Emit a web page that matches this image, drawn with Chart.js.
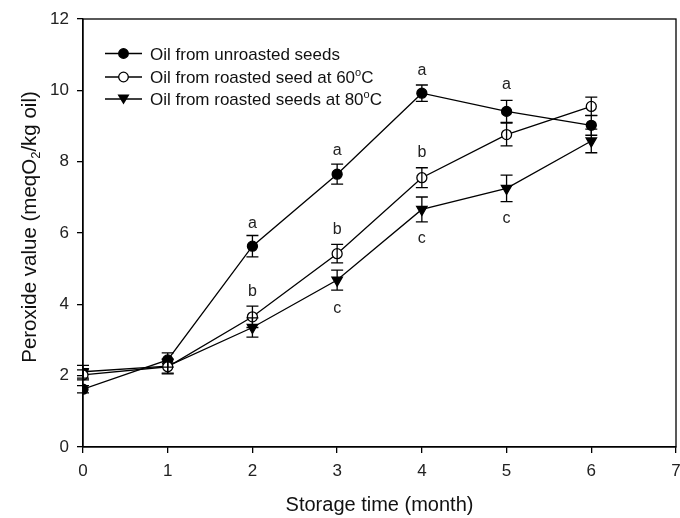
<!DOCTYPE html>
<html>
<head>
<meta charset="utf-8">
<script src="https://cdn.jsdelivr.net/npm/chart.js@4/dist/chart.umd.min.js"></script>
<style>
  html, body { margin: 0; padding: 0; background: #fff; }
  #wrap { width: 680px; height: 518px; }
</style>
</head>
<body>
<div id="wrap"><canvas id="chart" width="680" height="518"></canvas></div>
<script>
// Storage time (months) and peroxide values
const months = [0, 1, 2, 3, 4, 5, 6];
const unroasted = [1.62, 2.44, 5.63, 7.65, 9.92, 9.41, 9.02];
const unroastedErr = [0.1, 0.2, 0.3, 0.28, 0.23, 0.31, 0.28];
const roasted60 = [2.02, 2.25, 3.65, 5.42, 7.55, 8.76, 9.55];
const roasted60Err = [0.14, 0.2, 0.3, 0.26, 0.28, 0.32, 0.26];
const roasted80 = [2.11, 2.27, 3.35, 4.68, 6.66, 7.25, 8.58];
const roasted80Err = [0.18, 0.2, 0.27, 0.28, 0.35, 0.37, 0.33];

// Significance letters (month, position on value axis, text)
const letterMonths = [2, 2, 3, 3, 3, 4, 4, 4, 5, 5];
const letterValues = [6.25, 4.37, 8.32, 6.1, 3.89, 10.56, 8.26, 5.83, 10.17, 6.41];
const letterTexts = ['a', 'b', 'a', 'b', 'c', 'a', 'b', 'c', 'a', 'c'];

const xTicks = [0, 1, 2, 3, 4, 5, 6, 7];
const yTicks = [0, 2, 4, 6, 8, 10, 12];

const FONT = '"Liberation Sans", Arial, sans-serif';

function toPoints(values) {
    return months.map((m, i) => ({ x: m, y: values[i] }));
}

// Error bars drawn through the scales
const errorBars = {
    id: 'errorBars',
    afterDatasetsDraw(chart) {
        const ctx = chart.ctx;
        const xs = chart.scales.x, ys = chart.scales.y;
        ctx.save();
        ctx.strokeStyle = '#000';
        ctx.lineWidth = 1.3;
        chart.data.datasets.forEach(ds => {
            ds.data.forEach((p, i) => {
                const e = ds.errors[i];
                const px = xs.getPixelForValue(p.x);
                const top = ys.getPixelForValue(p.y + e);
                const bot = ys.getPixelForValue(p.y - e);
                ctx.beginPath();
                ctx.moveTo(px, top); ctx.lineTo(px, bot);
                ctx.moveTo(px - 6, top); ctx.lineTo(px + 6, top);
                ctx.moveTo(px - 6, bot); ctx.lineTo(px + 6, bot);
                ctx.stroke();
            });
        });
        ctx.restore();
    }
};

// Frame, letters, legend and axis titles
const decorations = {
    id: 'decorations',
    afterDraw(chart) {
        const ctx = chart.ctx;
        const a = chart.chartArea;
        const xs = chart.scales.x, ys = chart.scales.y;
        ctx.save();
        ctx.strokeStyle = '#000';
        ctx.lineWidth = 1.3;
        ctx.strokeRect(a.left, a.top, a.right - a.left, a.bottom - a.top);

        ctx.fillStyle = '#222';
        ctx.font = '16px ' + FONT;
        ctx.textAlign = 'center';
        ctx.textBaseline = 'middle';
        letterTexts.forEach((t, i) => {
            ctx.fillText(t, xs.getPixelForValue(letterMonths[i]), ys.getPixelForValue(letterValues[i]));
        });

        // legend
        const rows = [
            { y: 53.5, label: 'Oil from unroasted seeds', sup: null, style: 'filled' },
            { y: 77, label: 'Oil from roasted seed at 60', sup: 'o', end: 'C', style: 'open' },
            { y: 99, label: 'Oil from roasted seeds at 80', sup: 'o', end: 'C', style: 'tri' }
        ];
        rows.forEach(r => {
            ctx.strokeStyle = '#000';
            ctx.lineWidth = 1.3;
            ctx.beginPath();
            ctx.moveTo(105, r.y); ctx.lineTo(142, r.y);
            ctx.stroke();
            ctx.beginPath();
            if (r.style === 'tri') {
                ctx.moveTo(117.5, r.y - 4.5); ctx.lineTo(129.5, r.y - 4.5); ctx.lineTo(123.5, r.y + 5.5);
                ctx.closePath();
                ctx.fillStyle = '#000';
                ctx.fill();
            } else {
                ctx.arc(123.5, r.y, 4.8, 0, Math.PI * 2);
                ctx.fillStyle = r.style === 'filled' ? '#000' : '#fff';
                ctx.fill();
                ctx.stroke();
            }
            ctx.fillStyle = '#111';
            ctx.font = '17px ' + FONT;
            ctx.textAlign = 'left';
            ctx.textBaseline = 'alphabetic';
            const base = r.y + 6;
            ctx.fillText(r.label, 150, base);
            if (r.sup) {
                const w = ctx.measureText(r.label).width;
                ctx.font = '11px ' + FONT;
                ctx.fillText(r.sup, 150 + w, base - 7);
                const sw = ctx.measureText(r.sup).width;
                ctx.font = '17px ' + FONT;
                ctx.fillText(r.end, 150 + w + sw, base);
            }
        });

        // x title
        ctx.font = '20px ' + FONT;
        ctx.textAlign = 'center';
        ctx.textBaseline = 'alphabetic';
        ctx.fillText('Storage time (month)', (a.left + a.right) / 2, 511);

        // y title with subscript
        ctx.translate(36, 227);
        ctx.rotate(-Math.PI / 2);
        const p1 = 'Peroxide value (meqO', p2 = '2', p3 = '/kg oil)';
        ctx.font = '20.5px ' + FONT;
        const w1 = ctx.measureText(p1).width, w3 = ctx.measureText(p3).width;
        ctx.font = '13px ' + FONT;
        const w2 = ctx.measureText(p2).width;
        const x0 = -(w1 + w2 + w3) / 2;
        ctx.textAlign = 'left';
        ctx.font = '20.5px ' + FONT;
        ctx.fillText(p1, x0, 0);
        ctx.font = '13px ' + FONT;
        ctx.fillText(p2, x0 + w1, 4);
        ctx.font = '20.5px ' + FONT;
        ctx.fillText(p3, x0 + w1 + w2, 0);
        ctx.restore();
    }
};

const ctx = document.getElementById('chart').getContext('2d');
const chart = new Chart(ctx, {
    type: 'line',
    data: {
        datasets: [{
            label: 'Oil from unroasted seeds',
            data: toPoints(unroasted),
            errors: unroastedErr,
            borderColor: '#000',
            borderWidth: 1.3,
            pointStyle: 'circle',
            pointRadius: 5,
            pointBackgroundColor: '#000',
            pointBorderColor: '#000',
            order: 1
        }, {
            label: 'Oil from roasted seed at 60\u00b0C',
            data: toPoints(roasted60),
            errors: roasted60Err,
            borderColor: '#000',
            borderWidth: 1.3,
            pointStyle: 'circle',
            pointRadius: 5,
            pointBackgroundColor: '#fff',
            pointBorderColor: '#000',
            pointBorderWidth: 1.3,
            order: 0
        }, {
            label: 'Oil from roasted seeds at 80\u00b0C',
            data: toPoints(roasted80),
            errors: roasted80Err,
            borderColor: '#000',
            borderWidth: 1.3,
            pointStyle: 'triangle',
            pointRotation: 180,
            pointRadius: 6,
            pointBackgroundColor: '#000',
            pointBorderColor: '#000',
            order: 2
        }]
    },
    options: {
        responsive: false,
        animation: false,
        layout: { autoPadding: false, padding: { top: 19, right: 4, left: 0, bottom: 0 } },
        plugins: {
            legend: { display: false },
            tooltip: { enabled: false }
        },
        scales: {
            x: {
                type: 'linear',
                min: 0,
                max: 7,
                afterBuildTicks: s => { s.ticks = xTicks.map(v => ({ value: v })); },
                afterFit: s => { s.height = 71; s.paddingLeft = 0; s.paddingRight = 0; },
                grid: { drawOnChartArea: false, drawTicks: true, tickLength: 6, color: '#000', lineWidth: 1.3 },
                border: { display: true, color: '#000', width: 1.3 },
                ticks: { color: '#222', font: { family: FONT, size: 17 }, padding: 8, maxRotation: 0 }
            },
            y: {
                min: 0,
                max: 12,
                afterBuildTicks: s => { s.ticks = yTicks.map(v => ({ value: v })); },
                afterFit: s => { s.width = 83; s.paddingTop = 0; s.paddingBottom = 0; },
                grid: { drawOnChartArea: false, drawTicks: true, tickLength: 6, color: '#000', lineWidth: 1.3 },
                border: { display: true, color: '#000', width: 1.3 },
                ticks: { color: '#222', font: { family: FONT, size: 17 }, padding: 8 }
            }
        }
    },
    plugins: [errorBars, decorations]
});
</script>
</body>
</html>
